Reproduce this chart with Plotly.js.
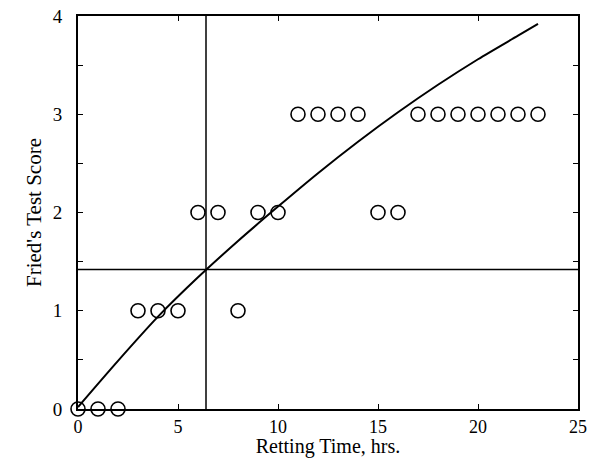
<!DOCTYPE html>
<html>
<head>
<meta charset="utf-8">
<script src="https://cdn.plot.ly/plotly-3.0.1.min.js"></script>
<style>html,body{margin:0;padding:0;background:#fff;}#chart{width:589px;height:458px;}</style>
</head>
<body>
<div id="chart"></div>
<script>
// Observed data: retting time (hrs) and Fried's test score
const rettingTime = [0,1,2,3,4,5,6,7,8,9,10,11,12,13,14,15,16,17,18,19,20,21,22,23];
const friedScore  = [0,0,0,1,1,1,2,2,1,2,2,3,3,3,3,2,2,3,3,3,3,3,3,3];

// Fitted curve
const curveX = [0,2,4,6,8,10,12,14,16,18,20,22,23];
const curveY = [0.02,0.49,0.94,1.34,1.71,2.06,2.40,2.72,3.02,3.30,3.56,3.80,3.92];

// Cross-hair reference lines
const refX = 6.4;
const refY = 1.42;

const serif = 'Liberation Serif, Times New Roman, serif';

const traces = [
  {x: curveX, y: curveY, mode: 'lines', line: {color: '#000', width: 2, shape: 'spline', smoothing: 0.8}, hoverinfo: 'skip', cliponaxis: false},
  {x: rettingTime, y: friedScore, mode: 'markers', cliponaxis: false,
   marker: {symbol: 'circle-open', size: 14, color: '#000', line: {color: '#000', width: 1.6}}}
];

const layout = {
  width: 589, height: 458,
  margin: {l: 78, r: 11, t: 16, b: 49},
  paper_bgcolor: '#fff', plot_bgcolor: '#fff',
  showlegend: false,
  font: {family: serif, color: '#000', size: 18},
  xaxis: {
    range: [0, 25], dtick: 5, tick0: 0,
    ticks: 'inside', ticklen: 5, tickwidth: 1, tickcolor: '#000',
    showline: true, linecolor: '#000', linewidth: 2, mirror: 'ticks',
    showgrid: false, zeroline: false,
    tickfont: {family: serif, size: 18},
    ticklabelstandoff: 0,
    title: {text: 'Retting Time, hrs.', font: {family: serif, size: 20}, standoff: 1}
  },
  yaxis: {
    range: [0, 4], dtick: 1, tick0: 0,
    ticks: 'inside', ticklen: 5, tickwidth: 1, tickcolor: '#000',
    minor: {dtick: 0.5, ticks: 'inside', ticklen: 5, tickcolor: '#000', showgrid: false},
    showline: true, linecolor: '#000', linewidth: 2, mirror: 'ticks',
    showgrid: false, zeroline: false,
    tickfont: {family: serif, size: 19},
    ticklabelstandoff: 10,
    title: {text: "Fried's Test Score", font: {family: serif, size: 21}, standoff: 5}
  },
  shapes: [
    {type: 'line', xref: 'x', yref: 'paper', x0: refX, x1: refX, y0: 0, y1: 1, line: {color: '#000', width: 1.5}},
    {type: 'line', xref: 'paper', yref: 'y', x0: 0, x1: 1, y0: refY, y1: refY, line: {color: '#000', width: 1.5}}
  ]
};

Plotly.newPlot('chart', traces, layout, {displayModeBar: false, staticPlot: true});
</script>
</body>
</html>
